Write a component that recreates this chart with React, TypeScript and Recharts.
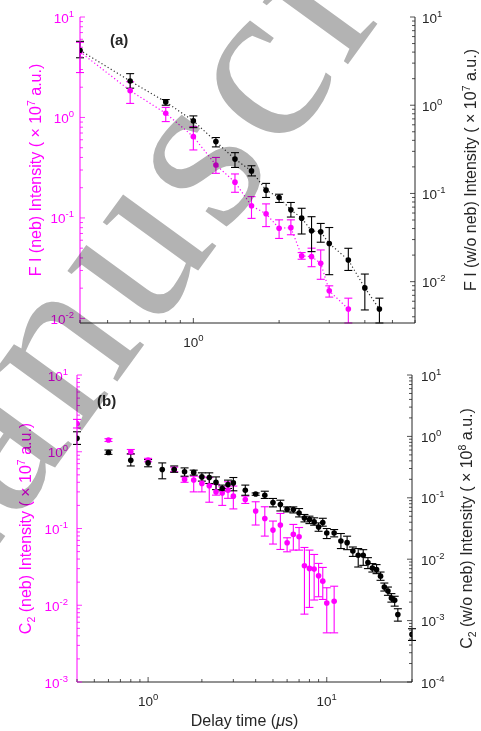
import { ScatterChart, Scatter, XAxis, YAxis, ErrorBar } from "recharts";

// ---- panel (a): F I emission vs delay time ----
const timesA = [0.4, 0.6, 0.8, 1.0, 1.2, 1.4, 1.6, 1.8, 2.0, 2.2, 2.4, 2.6, 2.8, 3.0, 3.5, 4.0, 4.5];

// with nebulizer (left axis, x 10^7 a.u.)
const fiNeb = [4.5, 1.85, 1.1, 0.644, 0.337, 0.227, 0.132, 0.11, 0.0789, 0.08, 0.0419, 0.0412, 0.0354, 0.0188, 0.0124];
const fiNebLo = [2.8, 1.38, 0.91, 0.475, 0.278, 0.18, 0.099, 0.082, 0.0625, 0.068, 0.0388, 0.0327, 0.0245, 0.0163, 0.009];
const fiNebHi = [5.6, 2.27, 1.26, 0.81, 0.4, 0.274, 0.163, 0.138, 0.0957, 0.0957, 0.0452, 0.05, 0.048, 0.0211, 0.0159];

// without nebulizer (right axis, x 10^7 a.u.)
const fiWo = [4.2, 1.88, 1.09, 0.664, 0.387, 0.245, 0.18, 0.109, 0.09, 0.0652, 0.0525, 0.0377, 0.0367, 0.0271, 0.0176, 0.0085, 0.0049];
const fiWoLo = [3.45, 1.56, 1.0, 0.557, 0.337, 0.197, 0.158, 0.09, 0.079, 0.054, 0.0347, 0.0219, 0.028, 0.012, 0.0134, 0.00478, 0.0034];
const fiWoHi = [5.3, 2.28, 1.16, 0.757, 0.43, 0.29, 0.206, 0.13, 0.098, 0.079, 0.0679, 0.0545, 0.0457, 0.0411, 0.0239, 0.0122, 0.0065];

// ---- panel (b): C2 emission vs delay time ----
const timesNebB = [0.4, 0.6, 0.8, 1.0, 1.4, 1.6, 1.8, 2.0, 2.2, 2.4, 2.6, 2.8, 3.0, 3.5, 4, 4.5, 5, 5.5, 6, 6.5, 7, 7.5, 8, 8.5, 9, 9.5, 10, 11];
const c2Neb = [2.33, 1.42, 1.0, 0.78, 0.59, 0.436, 0.428, 0.387, 0.36, 0.3, 0.29, 0.316, 0.264, 0.239, 0.169, 0.135, 0.0953, 0.111, 0.0652, 0.0838, 0.078, 0.0327, 0.0302, 0.0296, 0.0242, 0.0206, 0.0107, 0.0113];
const c2NebLo = [2.04, 1.36, 0.93, 0.74, 0.55, 0.4, 0.3, 0.3, 0.22, 0.272, 0.2, 0.247, 0.18, 0.212, 0.111, 0.0796, 0.0627, 0.0533, 0.0497, 0.0523, 0.0523, 0.00766, 0.00937, 0.0117, 0.0129, 0.0119, 0.00437, 0.00437];
const c2NebHi = [2.64, 1.48, 1.07, 0.82, 0.63, 0.47, 0.48, 0.47, 0.46, 0.376, 0.35, 0.406, 0.357, 0.264, 0.223, 0.192, 0.125, 0.157, 0.0757, 0.113, 0.103, 0.0566, 0.0523, 0.0459, 0.0351, 0.0311, 0.0169, 0.0177];

const timesWoB = [0.4, 0.6, 0.8, 1.0, 1.2, 1.4, 1.6, 1.8, 2.0, 2.2, 2.4, 2.6, 2.8, 3.0, 3.5, 4, 4.5, 5, 5.5, 6, 6.5, 7, 7.5, 8, 8.5, 9, 9.5, 10, 11, 12, 13, 14, 15, 16, 17, 18, 19, 20, 21, 22, 23, 24, 25, 30];
const c2Wo = [0.93, 0.548, 0.41, 0.37, 0.289, 0.289, 0.265, 0.259, 0.219, 0.214, 0.178, 0.142, 0.165, 0.175, 0.133, 0.115, 0.11, 0.0838, 0.0778, 0.0652, 0.0644, 0.0567, 0.047, 0.0443, 0.0405, 0.0335, 0.0395, 0.0267, 0.0267, 0.0198, 0.0186, 0.0136, 0.0116, 0.0116, 0.0088, 0.0072, 0.0068, 0.0053, 0.00352, 0.00303, 0.00233, 0.00214, 0.00126, 0.000596];
const c2WoLo = [0.74, 0.51, 0.33, 0.32, 0.204, 0.26, 0.225, 0.234, 0.187, 0.171, 0.136, 0.13, 0.142, 0.13, 0.11, 0.11, 0.0975, 0.0711, 0.0611, 0.0589, 0.0567, 0.0488, 0.0405, 0.038, 0.0358, 0.0285, 0.0345, 0.0217, 0.0231, 0.0149, 0.0143, 0.0111, 0.00746, 0.00794, 0.00703, 0.00618, 0.00582, 0.00453, 0.00303, 0.00258, 0.002, 0.00172, 0.00098, 0.000475];
const c2WoHi = [1.19, 0.6, 0.52, 0.42, 0.37, 0.33, 0.307, 0.282, 0.255, 0.255, 0.219, 0.161, 0.194, 0.214, 0.161, 0.12, 0.128, 0.0975, 0.0914, 0.0711, 0.0711, 0.0668, 0.0535, 0.0502, 0.0472, 0.039, 0.0464, 0.0316, 0.0304, 0.0262, 0.0237, 0.0158, 0.0149, 0.0143, 0.0106, 0.00848, 0.00817, 0.00618, 0.00409, 0.00352, 0.00275, 0.00249, 0.00156, 0.000738];

const MAGENTA = "#ff00ff";
const INK = "#262626";
const FONT = "'Liberation Sans', Arial, Helvetica, sans-serif";

const toPoints = (xs: number[], ys: number[], lo: number[], hi: number[]) =>
  ys.map((y, i) => ({ x: xs[i], y, err: [y - lo[i], hi[i] - y] }));

const nebA = toPoints(timesA, fiNeb, fiNebLo, fiNebHi);
const woA = toPoints(timesA, fiWo, fiWoLo, fiWoHi);
const nebB = toPoints(timesNebB, c2Neb, c2NebLo, c2NebHi);
const woB = toPoints(timesWoB, c2Wo, c2WoLo, c2WoHi);

// 1..9 x 10^k inside [lo, hi]
const logTicks = (lo: number, hi: number) => {
  const out: number[] = [];
  for (let e = Math.floor(Math.log10(lo)); e <= Math.ceil(Math.log10(hi)); e++) {
    for (let m = 1; m < 10; m++) {
      const v = Number((m * Math.pow(10, e)).toPrecision(6));
      if (v >= lo * 0.9999 && v <= hi * 1.0001) out.push(v);
    }
  }
  return out;
};

const expOf = (v: number) => Math.round(Math.log10(v));
const isMajor = (v: number) => Math.abs(Math.log10(v) - expOf(v)) < 1e-6;

const Pow = ({ x, y, v, anchor, color }: any) => (
  <text x={x} y={y} textAnchor={anchor} fill={color} fontSize={13.5} fontFamily={FONT}>
    10
    <tspan dy={-6} fontSize={9.5}>
      {String(expOf(v))}
    </tspan>
  </text>
);

const XTick = (props: any) => {
  const { x, y, payload, side } = props;
  const v = payload.value;
  const len = isMajor(v) ? 5 : 3;
  if (side === "top") {
    return <line x1={x} x2={x} y1={y} y2={y + len} stroke={INK} strokeWidth={0.8} />;
  }
  return (
    <g>
      <line x1={x} x2={x} y1={y} y2={y - len} stroke={INK} strokeWidth={0.8} />
      {isMajor(v) && <Pow x={x} y={y + 24} v={v} anchor="middle" color={INK} />}
    </g>
  );
};

const YTick = (props: any) => {
  const { x, y, payload, side, tickColor, gap } = props;
  const v = payload.value;
  const len = isMajor(v) ? 5 : 3;
  const dir = side === "left" ? 1 : -1;
  return (
    <g>
      <line x1={x} x2={x + dir * len} y1={y} y2={y} stroke={tickColor} strokeWidth={0.8} />
      {isMajor(v) && (
        <Pow x={x - dir * gap} y={y + 5.5} v={v} anchor={side === "left" ? "end" : "start"} color={tickColor} />
      )}
    </g>
  );
};

const vTitle = (viewBox: any, tx: number, color: string, parts: any) => {
  const cy = viewBox.y + viewBox.height / 2;
  return (
    <text
      x={tx}
      y={cy}
      transform={`rotate(-90 ${tx} ${cy})`}
      textAnchor="middle"
      fill={color}
      fontSize={16}
      fontFamily={FONT}
    >
      {parts}
    </text>
  );
};

const sup = (s: string) => [
  <tspan key="s" dy={-6} fontSize={10.5}>
    {s}
  </tspan>,
  <tspan key="r" dy={6}>
    {" a.u.)"}
  </tspan>,
];

const c2 = () => [
  <tspan key="c">C</tspan>,
  <tspan key="2" dy={4} fontSize={10.5}>
    2
  </tspan>,
];

const dot = (color: string) => (p: any) => <circle cx={p.cx} cy={p.cy} r={2.8} fill={color} />;

const App = () => {
  const xTicksA = logTicks(0.4, 6);
  const xTicksB = logTicks(0.4, 30);
  return (
    <div style={{ position: "absolute", left: 0, top: 0, width: 481, height: 731, background: "#fff" }}>
      <div style={{ position: "absolute", left: 0, top: 0 }}>
        <ScatterChart width={481} height={360} margin={{ top: 17, right: 16, bottom: 7, left: 30 }}>
          <XAxis
            xAxisId="b"
            dataKey="x"
            type="number"
            scale="log"
            domain={[0.4, 6]}
            allowDataOverflow
            ticks={xTicksA}
            interval={0}
            tickSize={0}
            tickMargin={0}
            height={30}
            axisLine={{ stroke: INK }}
            tick={<XTick side="bottom" />}
          />
          <XAxis
            xAxisId="t"
            orientation="top"
            dataKey="x"
            type="number"
            scale="log"
            domain={[0.4, 6]}
            allowDataOverflow
            ticks={xTicksA}
            interval={0}
            tickSize={0}
            tickMargin={0}
            height={0}
            axisLine={{ stroke: INK }}
            tick={<XTick side="top" />}
          />
          <YAxis
            yAxisId="l"
            dataKey="y"
            type="number"
            scale="log"
            domain={[0.009, 10]}
            allowDataOverflow
            ticks={logTicks(0.01, 10)}
            interval={0}
            tickSize={0}
            tickMargin={0}
            width={50}
            axisLine={{ stroke: MAGENTA }}
            tick={<YTick side="left" tickColor={MAGENTA} gap={6} />}
            label={(p: any) => vTitle(p.viewBox, 41, MAGENTA, ["F I (neb) Intensity ( \u00d7 10", ...sup("7")])}
          />
          <YAxis
            yAxisId="r"
            orientation="right"
            dataKey="y"
            type="number"
            scale="log"
            domain={[0.0034, 10]}
            allowDataOverflow
            ticks={logTicks(0.0034, 10)}
            interval={0}
            tickSize={0}
            tickMargin={0}
            width={50}
            axisLine={{ stroke: INK }}
            tick={<YTick side="right" tickColor={INK} gap={7} />}
            label={(p: any) => vTitle(p.viewBox, 476, INK, ["F I (w/o neb) Intensity ( \u00d7 10", ...sup("7")])}
          />
          <Scatter
            xAxisId="b"
            yAxisId="l"
            data={nebA}
            fill={MAGENTA}
            isAnimationActive={false}
            line={{ stroke: MAGENTA, strokeWidth: 1.2, strokeDasharray: "1.2 2.4" }}
            shape={dot(MAGENTA)}
          >
            <ErrorBar dataKey="err" direction="y" width={4} stroke={MAGENTA} strokeWidth={1.1} />
          </Scatter>
          <Scatter
            xAxisId="b"
            yAxisId="r"
            data={woA}
            fill="#000"
            isAnimationActive={false}
            line={{ stroke: "#333", strokeWidth: 1.2, strokeDasharray: "1.2 2.4" }}
            shape={dot("#000")}
          >
            <ErrorBar dataKey="err" direction="y" width={4} stroke="#000" strokeWidth={1.1} />
          </Scatter>
        </ScatterChart>
      </div>

      <div style={{ position: "absolute", left: 0, top: 360 }}>
        <ScatterChart width={481} height={371} margin={{ top: 15, right: 19, bottom: 19, left: 27 }}>
          <XAxis
            xAxisId="b"
            dataKey="x"
            type="number"
            scale="log"
            domain={[0.4, 30]}
            allowDataOverflow
            ticks={xTicksB}
            interval={0}
            tickSize={0}
            tickMargin={0}
            height={30}
            axisLine={{ stroke: INK }}
            tick={<XTick side="bottom" />}
            label={(p: any) => (
              <text
                x={p.viewBox.x + p.viewBox.width / 2}
                y={p.viewBox.y + 44}
                textAnchor="middle"
                fill={INK}
                fontSize={16}
                fontFamily={FONT}
              >
                Delay time (<tspan fontStyle="italic">{"\u03bc"}</tspan>s)
              </text>
            )}
          />
          <XAxis
            xAxisId="t"
            orientation="top"
            dataKey="x"
            type="number"
            scale="log"
            domain={[0.4, 30]}
            allowDataOverflow
            ticks={xTicksB}
            interval={0}
            tickSize={0}
            tickMargin={0}
            height={0}
            axisLine={{ stroke: INK }}
            tick={<XTick side="top" />}
          />
          <YAxis
            yAxisId="l"
            dataKey="y"
            type="number"
            scale="log"
            domain={[0.001, 10]}
            allowDataOverflow
            ticks={logTicks(0.001, 10)}
            interval={0}
            tickSize={0}
            tickMargin={0}
            width={50}
            axisLine={{ stroke: MAGENTA }}
            tick={<YTick side="left" tickColor={MAGENTA} gap={9} />}
            label={(p: any) =>
              vTitle(p.viewBox, 31, MAGENTA, [
                ...c2(),
                <tspan key="m" dy={-4}>
                  {" (neb) Intensity ( \u00d7 10"}
                </tspan>,
                ...sup("7"),
              ])
            }
          />
          <YAxis
            yAxisId="r"
            orientation="right"
            dataKey="y"
            type="number"
            scale="log"
            domain={[0.0001, 10]}
            allowDataOverflow
            ticks={logTicks(0.0001, 10)}
            interval={0}
            tickSize={0}
            tickMargin={0}
            width={50}
            axisLine={{ stroke: INK }}
            tick={<YTick side="right" tickColor={INK} gap={9} />}
            label={(p: any) =>
              vTitle(p.viewBox, 472, INK, [
                ...c2(),
                <tspan key="m" dy={-4}>
                  {" (w/o neb) Intensity ( \u00d7 10"}
                </tspan>,
                ...sup("8"),
              ])
            }
          />
          <Scatter xAxisId="b" yAxisId="l" data={nebB} fill={MAGENTA} isAnimationActive={false} shape={dot(MAGENTA)}>
            <ErrorBar dataKey="err" direction="y" width={4} stroke={MAGENTA} strokeWidth={1.1} />
          </Scatter>
          <Scatter xAxisId="b" yAxisId="r" data={woB} fill="#000" isAnimationActive={false} shape={dot("#000")}>
            <ErrorBar dataKey="err" direction="y" width={4} stroke="#000" strokeWidth={1.1} />
          </Scatter>
        </ScatterChart>
      </div>

      <svg width={481} height={731} style={{ position: "absolute", left: 0, top: 0, pointerEvents: "none" }}>
        <text x={110} y={45} fontSize={15} fontWeight="bold" fill={INK} fontFamily={FONT}>
          (a)
        </text>
        <text x={97} y={406} fontSize={15} fontWeight="bold" fill={INK} fontFamily={FONT}>
          (b)
        </text>
      </svg>

      <svg
        width={481}
        height={731}
        style={{ position: "absolute", left: 0, top: 0, pointerEvents: "none", mixBlendMode: "multiply" }}
      >
        <text
          x={-111}
          y={696}
          fontFamily="'Liberation Serif', 'Times New Roman', serif"
          fontSize={230}
          letterSpacing={8}
          fill="#b3b3b3"
          transform="rotate(-54 -111 696)"
        >
          Manuscript
        </text>
      </svg>
    </div>
  );
};

export default App;
